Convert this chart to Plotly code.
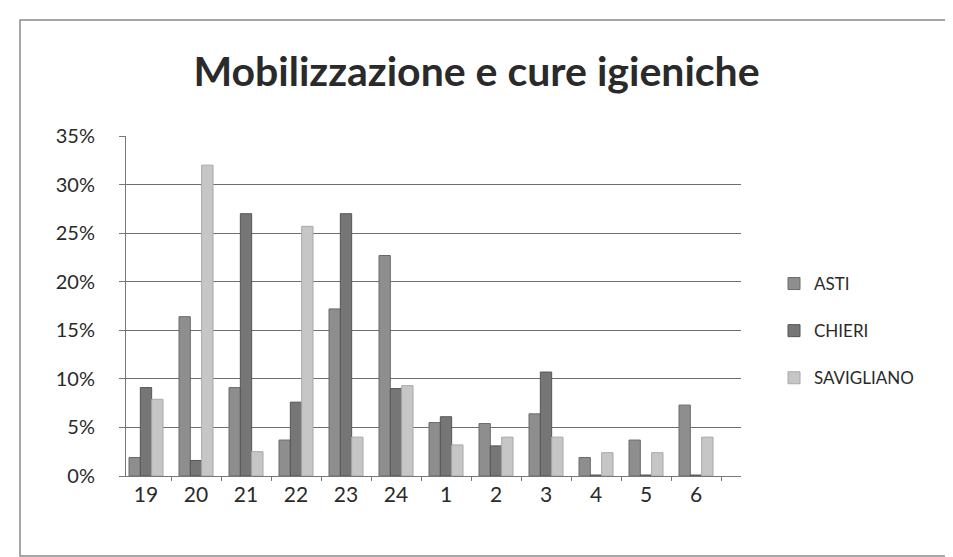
import plotly.graph_objects as go

categories = ["19", "20", "21", "22", "23", "24", "1", "2", "3", "4", "5", "6"]
asti = [0.019, 0.164, 0.091, 0.037, 0.172, 0.227, 0.055, 0.054, 0.064, 0.019, 0.037, 0.073]
chieri = [0.091, 0.016, 0.270, 0.076, 0.270, 0.090, 0.061, 0.031, 0.107, 0.001, 0.001, 0.001]
savigliano = [0.079, 0.320, 0.025, 0.257, 0.040, 0.093, 0.032, 0.040, 0.040, 0.024, 0.024, 0.040]
series_names = ["ASTI", "CHIERI", "SAVIGLIANO"]
series_values = [asti, chieri, savigliano]
series_colors = ["#8e8e8e", "#767676", "#c6c6c6"]
line_colors = ["#6a6a6a", "#555555", "#a8a8a8"]

W, H = 953, 557
L, R, T, B = 118, 733, 128, 468

fig = go.Figure()
for i, (name, vals) in enumerate(zip(series_names, series_values)):
    fig.add_trace(go.Bar(
        x=categories, y=vals, name=name,
        marker=dict(color=series_colors[i], line=dict(color=line_colors[i], width=1)),
        legendgroup=name,
    ))

def px(x):
    return (x - L) / (R - L)

def py(y):
    return (B - y) / (B - T)

fig.update_layout(
    width=W, height=H,
    margin=dict(l=L, r=W - R, t=T, b=H - B, pad=0),
    paper_bgcolor="white", plot_bgcolor="white",
    barmode="group", bargap=0.32, bargroupgap=0.0,
    font=dict(family="Lato, 'Open Sans', sans-serif", color="#2a2a2a", size=17),
    title=dict(text="Mobilizzazione e cure igieniche", x=0.5 - 8 / W, xref="container",
               xanchor="center", y=1 - 64 / H, yanchor="middle",
               font=dict(size=41, color="#2a2a2a", family="Lato, 'Open Sans', sans-serif", weight="bold")),
    legend=dict(x=px(766), y=py(258), xanchor="left", yanchor="top",
                font=dict(size=17, color="#2a2a2a"), tracegroupgap=22,
                itemwidth=30, bgcolor="rgba(0,0,0,0)"),
    showlegend=True,
    shapes=[
        dict(type="rect", xref="paper", yref="paper",
             x0=px(12), x1=px(944), y0=py(548), y1=py(12),
             line=dict(color="#8a8a8a", width=1.5), layer="below"),
    ],
)
fig.update_xaxes(
    type="category", range=[-0.4, 11.9],
    showgrid=False, showline=True, linecolor="#777777", linewidth=1,
    ticks="outside", tickson="boundaries", ticklen=4, tickcolor="#777777",
    tickfont=dict(size=21, color="#2a2a2a"), ticklabelstandoff=0,
)
fig.update_yaxes(
    range=[0, 0.35], dtick=0.05, tickformat=".0%",
    showgrid=True, gridcolor="#6e6e6e", gridwidth=1,
    showline=True, linecolor="#777777", linewidth=1,
    ticks="outside", ticklen=6, tickcolor="#777777",
    tickfont=dict(size=20, color="#2a2a2a"), ticklabelstandoff=20,
    zeroline=False,
)

fig.write_html("out.html")
